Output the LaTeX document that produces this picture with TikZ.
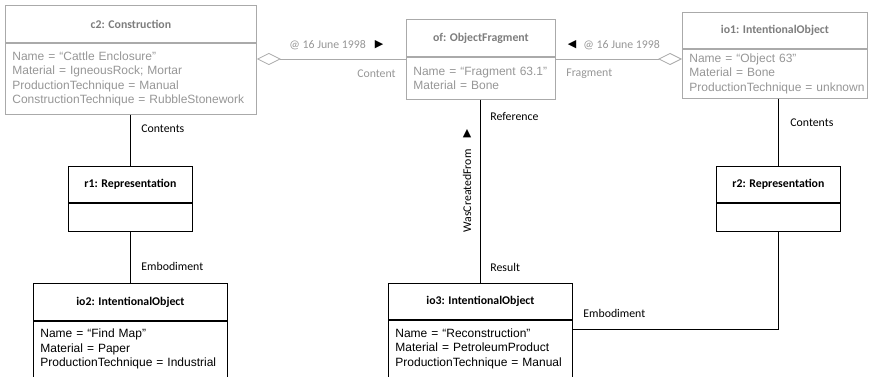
\documentclass[tikz,border=0pt]{standalone}
\usepackage{fontspec}
\setmainfont{Liberation Sans}
\newfontfamily\calibri{Carlito}
\newfontfamily\symfont{DejaVu Sans}
\usetikzlibrary{positioning,arrows.meta}
\definecolor{boxgrey}{RGB}{170,170,170}
\definecolor{textgrey}{RGB}{150,150,150}
\definecolor{headgrey}{RGB}{125,125,125}

\begin{document}
\begin{tikzpicture}[x=1pt,y=-1pt,line width=0.8pt,
  objhead/.style={draw,anchor=north west,inner sep=0pt,font=\calibri\bfseries\fontsize{11.8}{13}\selectfont},
  objbody/.style={draw,below=0pt of #1,inner xsep=7pt,inner ysep=0pt,align=left,font=\fontsize{12}{14.5}\selectfont},
  faded/.style={draw=boxgrey,text=textgrey},
  fadedhead/.style={draw=boxgrey,text=headgrey},
  lbl/.style={inner sep=0pt,font=\calibri\fontsize{11.8}{13}\selectfont},
  tri/.style={inner sep=0pt,font=\symfont\fontsize{11}{11}\selectfont},
  agg/.style={draw=boxgrey,{Diamond[open,length=24pt,width=12pt]}-}]
\useasboundingbox (0,0) rectangle (869,377);

% objects on the top row
\node[objhead,fadedhead,minimum width=251pt,minimum height=37pt] (c2) at (5,5) {c2: Construction};
\node[objbody=c2,faded,text width=237pt,minimum height=71pt] (c2a)
  {Name = “Cattle Enclosure”\\Material = IgneousRock; Mortar\\ProductionTechnique = Manual\\ConstructionTechnique = RubbleStonework};
\node[objhead,fadedhead,minimum width=149pt,minimum height=37pt] (of) at (406,19) {of: ObjectFragment};
\node[objbody=of,faded,text width=135pt,minimum height=42pt] (ofa)
  {Name = “Fragment 63.1”\\Material = Bone};
\node[objhead,fadedhead,minimum width=185pt,minimum height=36pt] (io1) at (682,12) {io1: IntentionalObject};
\node[objbody=io1,faded,text width=171pt,minimum height=49pt] (io1a)
  {Name = “Object 63”\\Material = Bone\\\mbox{ProductionTechnique = unknown}};

% representations
\node[objhead,minimum width=124pt,minimum height=36pt] (r1) at (68,166) {r1: Representation};
\node[objbody=r1,text width=110pt,minimum height=28pt] (r1a) {};
\node[objhead,minimum width=124pt,minimum height=36pt] (r2) at (716,166) {r2: Representation};
\node[objbody=r2,text width=110pt,minimum height=28pt] (r2a) {};

% bottom row
\node[objhead,minimum width=194pt,minimum height=37pt] (io2) at (33,283) {io2: IntentionalObject};
\node[objbody=io2,text width=180pt,minimum height=56pt] (io2a)
  {Name = “Find Map”\\Material = Paper\\ProductionTechnique = Industrial};
\node[objhead,minimum width=184pt,minimum height=36pt] (io3) at (388,283) {io3: IntentionalObject};
\node[objbody=io3,text width=170pt,minimum height=57pt] (io3a)
  {Name = “Reconstruction”\\Material = PetroleumProduct\\ProductionTechnique = Manual};

% aggregations
\coordinate (aggline) at (0,59);
\draw[agg] (c2a.east |- aggline) -- (ofa.west |- aggline);
\draw[agg] (io1a.west |- aggline) -- (ofa.east |- aggline);
\node[lbl,text=textgrey,anchor=west] at (289,45) {@ 16 June 1998};
\node[tri] at (379,45) {▶};
\node[lbl,text=textgrey,anchor=east] at (396,74) {Content};
\node[tri] at (572,45) {◀};
\node[lbl,text=textgrey,anchor=west] at (583,45) {@ 16 June 1998};
\node[lbl,text=textgrey,anchor=west] at (566,74) {Fragment};

% associations
\draw (r1.north |- c2a.south) -- (r1.north);
\node[lbl,anchor=west] at (141,129) {Contents};
\draw (r1a.south) -- (io2.north);
\node[lbl,anchor=west] at (141,266) {Embodiment};
\draw (io3.north |- ofa.south) -- (io3.north);
\node[lbl,anchor=west] at (490,116) {Reference};
\node[lbl,anchor=west] at (490,267) {Result};
\node[tri] at (467,134) {▲};
\node[lbl,rotate=90] at (467,191) {WasCreatedFrom};
\draw (r2.north |- io1a.south) -- (r2.north);
\node[lbl,anchor=west] at (790,123) {Contents};
\coordinate (embline) at (0,329);
\draw (r2a.south) |- (io3a.east |- embline);
\node[lbl,anchor=west] at (583,313) {Embodiment};
\end{tikzpicture}
\end{document}
